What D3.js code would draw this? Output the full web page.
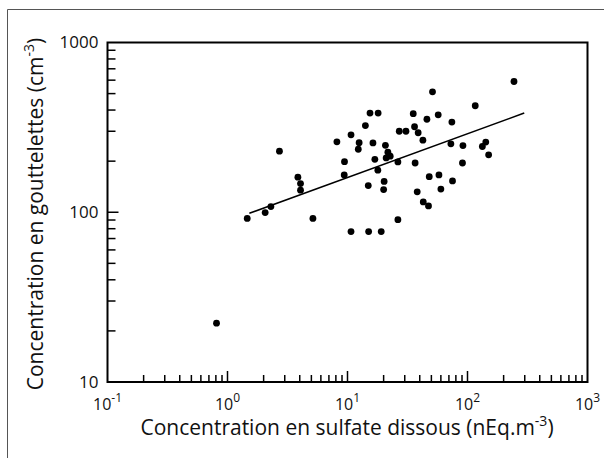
<!DOCTYPE html>
<html lang='fr'>
	<head>
		<meta charset='utf-8'>
		<title>Gouttelettes vs sulfate</title>
		<script type='text/javascript' src='https://cdn.jsdelivr.net/npm/d3@7'></script>
		<style>
			body { margin: 0; background: #fff; }
			text { font-family: 'Open Sans', 'Noto Sans', sans-serif; fill: #111; }
		</style>
	</head>
	<body>
		<script type='text/javascript'>
		// values
		var sulfate = [1.46, 2.06, 2.30, 2.71, 3.86, 4.06, 4.06, 5.15, 8.16, 9.44,
			9.39, 10.7, 10.7, 12.5, 12.3, 14.1, 15.4, 18.0, 16.3, 14.9,
			15.0, 16.9, 17.9, 19.1, 20.2, 20.0, 20.7, 21.7, 21.0, 22.7,
			26.3, 26.3, 27.0, 30.7, 35.3, 36.2, 38.8, 42.5, 36.6, 38.1,
			42.8, 47.3, 48.0, 51.1, 57.0, 45.9, 57.8, 60.0, 74.1, 72.7,
			75.0, 91.6, 90.8, 116, 133, 142, 150, 244, 0.81];
		var droplets = [92, 99.5, 108, 229, 161, 147.6, 134.9, 92, 260, 198.6,
			166, 286, 76.9, 257, 235, 324, 384, 384, 256, 143.6,
			76.9, 205, 177, 76.9, 152, 136, 248, 226, 209, 214,
			198, 90.4, 300, 300, 381, 319, 294, 266, 195, 132,
			115, 109, 162, 512, 375, 353, 166, 137, 340, 253,
			153, 247, 195, 424, 244, 259, 218, 589, 22.2];
		var fitX = [1.52, 297];
		var fitY = [98.6, 384];
		var xTickPowers = [-1, 0, 1, 2, 3];
		var yTickLabels = [10, 100, 1000];

		{
			var width = 604, height = 458;
			var mLeft = 107.5, mRight = 587.5, mTop = 42.5, mBottom = 382;

			var svg = d3.select('body').append('svg').attr('width', width).attr('height', height);

			// outer frame (top and left edges visible)
			svg.append('path').attr('d', 'M7.5,' + height + 'V9.5H' + width)
				.attr('fill', 'none').attr('stroke', '#555').attr('stroke-width', 1);

			var x = d3.scaleLog().domain([0.1, 1000]).range([mLeft, mRight]);
			var y = d3.scaleLog().domain([10, 1000]).range([mBottom, mTop]);

			var g = svg.append('g');

			// ticks, drawn inward
			var xMinor = [], yMinor = [];
			for (var p = -1; p < 3; p++)
				for (var k = 2; k <= 9; k++) xMinor.push(k * Math.pow(10, p));
			for (var p = 1; p < 3; p++)
				for (var k = 2; k <= 9; k++) yMinor.push(k * Math.pow(10, p));

			g.selectAll('.xminor').data(xMinor).enter().append('line')
				.attr('x1', d => x(d)).attr('x2', d => x(d))
				.attr('y1', mBottom).attr('y2', mBottom - 7)
				.attr('stroke', '#000').attr('stroke-width', 1.5);
			g.selectAll('.xmajor').data([1, 10, 100]).enter().append('line')
				.attr('x1', d => x(d)).attr('x2', d => x(d))
				.attr('y1', mBottom).attr('y2', mBottom - 11)
				.attr('stroke', '#000').attr('stroke-width', 1.5);
			g.selectAll('.yminor').data(yMinor).enter().append('line')
				.attr('y1', d => y(d)).attr('y2', d => y(d))
				.attr('x1', mLeft).attr('x2', mLeft + 8)
				.attr('stroke', '#000').attr('stroke-width', 1.5);
			g.selectAll('.ymajor').data([100]).enter().append('line')
				.attr('y1', d => y(d)).attr('y2', d => y(d))
				.attr('x1', mLeft).attr('x2', mLeft + 11)
				.attr('stroke', '#000').attr('stroke-width', 1.5);

			g.append('rect').attr('x', mLeft).attr('y', mTop)
				.attr('width', mRight - mLeft).attr('height', mBottom - mTop)
				.attr('fill', 'none').attr('stroke', '#000').attr('stroke-width', 2);

			// tick labels
			g.selectAll('.ylab').data(yTickLabels).enter().append('text')
				.attr('x', mLeft - 9).attr('y', d => y(d) + 5.5)
				.attr('text-anchor', 'end').attr('font-size', 17)
				.text(d => d);

			var xl = g.selectAll('.xlab').data(xTickPowers).enter().append('text')
				.attr('x', d => x(Math.pow(10, d))).attr('y', mBottom + 28)
				.attr('text-anchor', 'middle').attr('font-size', 16);
			xl.append('tspan').text('10');
			xl.append('tspan').attr('dy', -8).attr('font-size', 12).text(d => d);

			// axis titles
			var xt = svg.append('text').attr('x', 347).attr('y', 435)
				.attr('text-anchor', 'middle').attr('font-size', 21);
			xt.append('tspan').text('Concentration en sulfate dissous (nEq.m');
			xt.append('tspan').attr('dy', -9).attr('font-size', 14).text('-3');
			xt.append('tspan').attr('dy', 9).text(')');

			var yt = svg.append('text').attr('transform', 'translate(43,214) rotate(-90)')
				.attr('text-anchor', 'middle').attr('font-size', 21);
			yt.append('tspan').text('Concentration en gouttelettes (cm');
			yt.append('tspan').attr('dy', -9).attr('font-size', 14).text('-3');
			yt.append('tspan').attr('dy', 9).text(')');

			// regression line
			g.append('line')
				.attr('x1', x(fitX[0])).attr('y1', y(fitY[0]))
				.attr('x2', x(fitX[1])).attr('y2', y(fitY[1]))
				.attr('stroke', '#000').attr('stroke-width', 1.6);

			// points
			g.selectAll('circle').data(sulfate).enter().append('circle')
				.attr('cx', d => x(d))
				.attr('cy', (d, i) => y(droplets[i]))
				.attr('r', 3.4)
				.attr('fill', '#000');
		}
		</script>
	</body>
</html>
